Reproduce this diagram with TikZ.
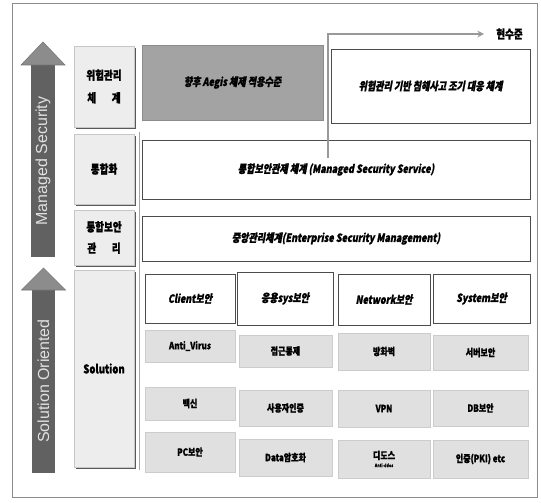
\documentclass[tikz,border=0pt]{standalone}
\usepackage{fontspec}
\setmainfont{Liberation Sans}
\newfontfamily\kr[FakeStretch=0.8,FakeBold=1.2]{Noto Sans CJK KR}
\newfontfamily\krit[FakeStretch=0.8,FakeSlant=0.18,FakeBold=1.2]{Noto Sans CJK KR}
\usetikzlibrary{shadows,arrows.meta}
\newcommand\bx[7]{\node[#1, minimum width={(#5-(#3))*0.75pt}, minimum height={(#6-(#4))*0.75pt}] (#2) at ({(#3+#5)/2},{(#4+#6)/2}) {#7};}
\tikzset{
  base/.style={inner sep=0pt, outer sep=0pt, align=center},
  lbl/.style={base, fill=black!7, draw=black!22, font=\kr\bfseries\fontsize{9}{11}\selectfont,
     drop shadow={shadow xshift=1.3pt, shadow yshift=-1.3pt, fill=black!65, opacity=1}},
  wbox/.style={base, fill=white, draw=black!70, line width=0.6pt, font=\krit\bfseries\fontsize{8.5}{10}\selectfont,
     drop shadow={shadow xshift=1pt, shadow yshift=-1pt, fill=black!45, opacity=1}},
  gbox/.style={base, fill=black!36, draw=black!45, font=\krit\bfseries\fontsize{8.5}{10}\selectfont,
     drop shadow={shadow xshift=1pt, shadow yshift=-1pt, fill=black!55, opacity=1}},
  sol/.style={base, fill=black!12, draw=black!20, font=\kr\bfseries\fontsize{7.5}{8}\selectfont,
     drop shadow={shadow xshift=0.6pt, shadow yshift=-1pt, fill=black!60, opacity=1}},
  bigarrowshaft/.style={fill=black!62, draw=none},
  bigarrowhead/.style={fill=black!45, draw=black!55, line width=0.4pt},
  arrtext/.style={text=black!12, font=\fontsize{12}{12}\selectfont, rotate=90, inner sep=0pt},
  lvl/.style={draw=black!40, line width=1.5pt, -{Stealth[length=5pt,width=5pt]}},
}
\begin{document}
\begin{tikzpicture}[x=0.75pt,y=-0.75pt]
\useasboundingbox[fill=white] (0,0) rectangle (541,502);
\draw[black!45, line width=0.6pt] (12,3) rectangle (537,497);

% big arrows
\fill[bigarrowshaft] (31,64) rectangle (55,257);
\filldraw[bigarrowhead] (43,42) -- (65,65) -- (21,65) -- cycle;
\node[arrtext] (ms) at (43,161) {Managed Security};
\fill[bigarrowshaft] (32,289) rectangle (55,473);
\filldraw[bigarrowhead] (43.5,268) -- (65.5,290) -- (21.5,290) -- cycle;
\node[arrtext] (so) at (43.5,381) {Solution Oriented};

% separator
\draw[black!35, line width=0.5pt] (139,132) -- (139,470);

% labels
\bx{lbl}{l1}{74}{46}{134}{127}{위험관리\\[6pt]체\hspace{1.3em}계}
\bx{lbl}{l2}{74}{134}{134}{204}{통합화}
\bx{lbl}{l3}{74}{210}{134}{265}{통합보안\\[5pt]관\hspace{1.3em}리}
\bx{lbl}{l4}{74}{270}{134}{467}{Solution}

% upper boxes
\bx{gbox}{fut}{142}{45}{323}{120}{향후 Aegis 체제 적용수준}
\bx{wbox}{risk}{331}{49}{530}{123}{위험관리 기반 침해사고 조기 대응 체계}
\bx{wbox}{mss}{142}{140}{530}{199}{통합보안관제 체계 (Managed Security Service)}
\bx{wbox}{esm}{142}{216}{530}{261}{중앙관리체계(Enterprise Security Management)}

% categories
\bx{wbox}{c1}{145}{274}{235}{323}{Client보안}
\bx{wbox}{c2}{237}{272}{333}{325}{응용sys보안}
\bx{wbox}{c3}{338}{274}{430}{325}{Network보안}
\bx{wbox}{c4}{433}{274}{530}{323}{System보안}

% solutions
\bx{sol}{s11}{145}{330}{235}{362}{Anti\_Virus}
\bx{sol}{s12}{239}{335}{332}{367}{접근통제}
\bx{sol}{s13}{338}{333}{430}{370}{방화벽}
\bx{sol}{s14}{433}{335}{528}{370}{서버보안}
\bx{sol}{s21}{145}{387}{235}{420}{백신}
\bx{sol}{s22}{239}{390}{332}{426}{사용자인증}
\bx{sol}{s23}{338}{390}{430}{427}{VPN}
\bx{sol}{s24}{433}{390}{528}{426}{DB보안}
\bx{sol}{s31}{145}{432}{235}{472}{PC보안}
\bx{sol}{s32}{239}{439}{332}{476}{Data암호화}
\bx{sol}{s33}{338}{440}{430}{478}{디도스\\[-2pt]{\fontsize{3.5}{4}\selectfont Anti-ddos}}
\bx{sol}{s34}{433}{440}{528}{478}{인증(PKI) etc}

% current level marker
\node[font=\kr\bfseries\fontsize{9}{10}\selectfont, inner sep=0pt, anchor=west] (hsj) at (496,34) {현수준};
\coordinate (lvA) at (328,158);
\coordinate (lvB) at (328,34);
\draw[lvl, shorten >=9pt] (lvA) -- (lvB) -- (hsj.west);
\end{tikzpicture}
\end{document}
